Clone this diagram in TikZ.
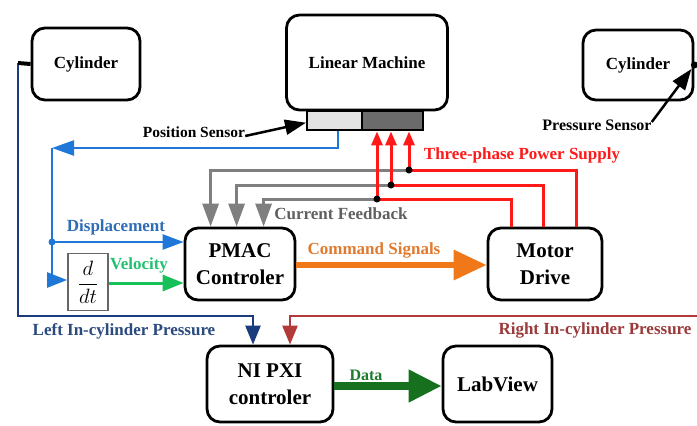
\documentclass[tikz,border=0pt]{standalone}
\usepackage{fontspec}
\setmainfont{Liberation Serif}[BoldFont={Liberation Serif Bold}]
\usetikzlibrary{arrows.meta,calc}
\newcommand{\fsz}[2]{\fontsize{#1}{#2}\selectfont\bfseries}
\definecolor{cblue}{HTML}{1F78D8}
\definecolor{cnavy}{HTML}{1B3C7C}
\definecolor{cgreen}{HTML}{18C05A}
\definecolor{cdgreen}{HTML}{16701E}
\definecolor{corange}{HTML}{F07818}
\definecolor{cgray}{HTML}{7F7F7F}
\definecolor{cred}{HTML}{FF1A1A}
\definecolor{cdred}{HTML}{B23A3A}
\definecolor{tblue}{HTML}{2E6DB8}
\definecolor{tgreen}{HTML}{22C070}
\definecolor{torange}{HTML}{E07A2E}
\definecolor{tgray}{HTML}{606060}
\definecolor{tnavy}{HTML}{2A4A80}
\definecolor{tdred}{HTML}{9A3A3A}
\definecolor{tdgreen}{HTML}{1E7A2E}
\begin{document}
\begin{tikzpicture}[x=1pt,y=-1pt,
  box/.style={draw, line width=2.8pt, rounded corners=13pt, align=center, inner sep=0pt},
  lbl/.style={font=\fsz{17}{19}, inner sep=0pt},
  jdot/.style={circle, fill=#1, inner sep=0pt, minimum size=7pt},
  ln/.style={line width=2.5pt},
  fb/.style={line width=3pt},
]
\useasboundingbox (0,0) rectangle (697,426);

% boxes
\node[box, minimum width=108pt, minimum height=72pt, font=\fsz{17}{20}] (cylL) at (86,64) {Cylinder};
\node[box, minimum width=110pt, minimum height=70pt, font=\fsz{17}{20}] (cylR) at (638,65) {Cylinder};
\node[box, minimum width=161pt, minimum height=95pt, font=\fsz{17}{20}] (lm) at (367,62.5) {Linear Machine};
\node[draw, line width=2.4pt, fill=gray!22, minimum width=55pt, minimum height=19pt, anchor=north west, inner sep=0pt] (barL) at (306,110) {};
\node[draw, line width=2.4pt, fill=black!58, minimum width=61pt, minimum height=19pt, anchor=north west, inner sep=0pt] (barR) at (361,110) {};
\node[box, minimum width=110pt, minimum height=72pt, font=\fsz{21}{27}] (pmac) at (240,264) {PMAC\\Controler};
\node[box, minimum width=114pt, minimum height=72pt, font=\fsz{21}{27}] (motor) at (545,264) {Motor\\Drive};
\node[box, minimum width=126pt, minimum height=76pt, font=\fsz{21}{27}] (ni) at (270,384) {NI PXI\\controler};
\node[box, minimum width=109pt, minimum height=76pt, font=\fsz{21}{24}] (lab) at (497.5,384) {LabView};
\node[draw=black!60, line width=1.8pt, minimum width=40pt, minimum height=57pt, inner sep=0pt] (ddt) at (88,282) {\fontsize{22}{26}\selectfont$\displaystyle\frac{d}{dt}$};

% labels
\node[lbl, font=\fsz{15.5}{18}] (pos) at (194,132) {Position Sensor};
\node[lbl, font=\fsz{16}{18}] (pres) at (597,125) {Pressure Sensor};
\node[lbl, text=cred] (tps) at (522,155) {Three-phase Power Supply};
\node[lbl, text=tgray] (cf) at (341,214) {Current Feedback};
\node[lbl, text=tblue] (disp) at (116,227) {Displacement};
\node[lbl, text=tgreen] (vel) at (139,265) {Velocity};
\node[lbl, text=torange] (cmd) at (374,250) {Command Signals};
\node[lbl, text=tnavy] (lp) at (124,331) {Left In-cylinder Pressure};
\node[lbl, text=tdred] (rp) at (595,330) {Right In-cylinder Pressure};
\node[lbl, font=\fsz{16}{18}, text=tdgreen] (data) at (366,375) {Data};

% left cylinder pressure line
\coordinate (nl) at (18,63);
\coordinate (nlb) at (18,316);
\coordinate (nlc) at (253,316);
\draw[cnavy, ln, -{Triangle[length=19pt,width=15pt]}] (nl) -- (nlb) -- (nlc) -- (nlc |- ni.north);
\draw[line width=4pt] (nl) -- (cylL.west);

% right cylinder pressure line
\coordinate (rce) at (697,63);
\draw[ln] (cylR.east) -- (rce);
\node[jdot=black] at (cylR.east) {};
\coordinate (rra) at (697,316);
\coordinate (rrb) at (290,316);
\draw[cdred, ln, -{Triangle[length=19pt,width=15pt]}] (rra) -- (rrb) -- (rrb |- ni.north);

% position feedback
\coordinate (bs) at ([xshift=3.5pt]barL.south);
\coordinate (bc) at (52,148);
\coordinate (bd) at (52,280);
\coordinate (bj) at (52,242);
\draw[cblue, ln, -{Triangle[length=22pt,width=15pt]}] (bs) |- (bc);
\draw[cblue, ln, -{Triangle[length=20pt,width=15pt]}] (bc) -- (bd) -- (ddt.west |- bd);
\draw[cblue, ln, -{Triangle[length=21pt,width=15pt]}] (bj) -- (pmac.west |- bj);
\node[jdot=cblue] at (bj) {};

% velocity
\coordinate (gv) at (0,283);
\draw[cgreen, line width=3pt, -{Triangle[length=21pt,width=16pt]}] (ddt.east |- gv) -- (pmac.west |- gv);

% command signals
\coordinate (oy) at (0,265);
\draw[corange, line width=6.5pt, -{Triangle[length=33pt,width=29pt]}] (pmac.east |- oy) -- (motor.west |- oy);

% data
\coordinate (dy) at (0,386);
\draw[cdgreen, line width=7.5pt, -{Triangle[length=33pt,width=31pt]}] (ni.east |- dy) -- (lab.west |- dy);

% current feedback and power supply
\coordinate (j1) at (409,170);
\coordinate (j2) at (391,185);
\coordinate (j3) at (377,199);
\draw[cgray, fb, -{Triangle[length=23pt,width=16pt]}] (j1) -| ([xshift=27pt]pmac.north west);
\draw[cgray, fb, -{Triangle[length=23pt,width=16pt]}] (j2) -| ([xshift=53pt]pmac.north west);
\draw[cgray, fb, -{Triangle[length=23pt,width=16pt]}] (j3) -| ([xshift=80pt]pmac.north west);
\draw[cred, fb] ([xshift=25pt]motor.north west) |- (j3);
\draw[cred, fb] ([xshift=57pt]motor.north west) |- (j2);
\draw[cred, fb] ([xshift=90pt]motor.north west) |- (j1);
\draw[cred, fb, -{Triangle[length=14pt,width=11pt]}] (j3) -- (j3 |- barR.south);
\draw[cred, fb, -{Triangle[length=14pt,width=11pt]}] (j2) -- (j2 |- barR.south);
\draw[cred, fb, -{Triangle[length=14pt,width=11pt]}] (j1) -- (j1 |- barR.south);
\node[jdot=black] at (j1) {};
\node[jdot=black] at (j2) {};
\node[jdot=black] at (j3) {};

% sensor pointers
\draw[ln, -{Triangle[length=21pt,width=15pt]}] ([yshift=-4pt]pos.east) -- ([yshift=-2pt]barL.west);
\draw[ln, -{Triangle[length=21pt,width=15pt]}] ([yshift=3pt]pres.east) -- ([xshift=-3pt,yshift=-4pt]cylR.east);
\end{tikzpicture}
\end{document}
